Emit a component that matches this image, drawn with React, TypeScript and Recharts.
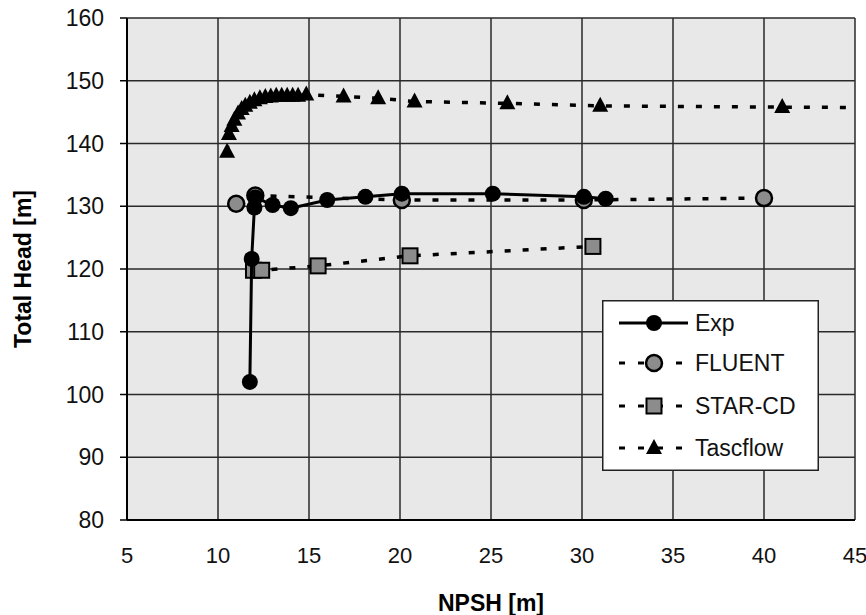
import React from "react";
import { CartesianGrid, Scatter, ScatterChart, XAxis, YAxis } from "recharts";

// NPSH [m] / Total Head [m] readings for each source
const expNpsh = [11.75, 11.85, 12.0, 12.05, 13.0, 14.0, 16.0, 18.1, 20.1, 25.1, 30.1, 31.3];
const expHead = [102.0, 121.6, 129.8, 131.4, 130.2, 129.7, 131.0, 131.5, 132.0, 132.0, 131.5, 131.2];

const fluentNpsh = [11.0, 12.05, 20.1, 30.1, 40.0];
const fluentHead = [130.4, 131.7, 131.0, 131.0, 131.3];

const starNpsh = [11.95, 12.4, 15.5, 20.55, 30.6];
const starHead = [119.8, 119.8, 120.5, 122.1, 123.6];

const tascNpsh = [
  10.5, 10.6, 10.75, 10.9, 11.1, 11.3, 11.5, 11.75, 12.0, 12.3, 12.6, 12.9, 13.2, 13.5, 13.8, 14.1,
  14.4, 14.85, 16.9, 18.8, 20.8, 25.9, 31.0, 41.0, 47.0,
];
const tascHead = [
  138.7, 141.5, 142.8, 143.8, 144.8, 145.5, 146.0, 146.5, 146.9, 147.2, 147.4, 147.5, 147.6, 147.6, 147.6, 147.6,
  147.6, 147.8, 147.5, 147.2, 146.7, 146.4, 146.0, 145.8, 145.7,
];

const xTicks = [5, 10, 15, 20, 25, 30, 35, 40, 45];
const yTicks = [80, 90, 100, 110, 120, 130, 140, 150, 160];
const legendNames = ["Exp", "FLUENT", "STAR-CD", "Tascflow"];

const zip = (xs: number[], ys: number[]) => xs.map((x, i) => ({ npsh: x, head: ys[i] }));

const FONT = "'Liberation Sans', Arial, sans-serif";
const GRAY = "#8c8c8c";

function Dot({ cx, cy, fill }: any) {
  if (cx == null || cy == null) return null;
  return <circle cx={cx} cy={cy} r={8} fill={fill} stroke="#000" strokeWidth={fill === "#000" ? 0 : 2.5} />;
}

function Square({ cx, cy }: any) {
  if (cx == null || cy == null) return null;
  return <rect x={cx - 7.5} y={cy - 7.5} width={15} height={15} fill={GRAY} stroke="#000" strokeWidth={2} />;
}

function Tri({ cx, cy }: any) {
  if (cx == null || cy == null) return null;
  return <path d={`M${cx},${cy - 9} L${cx + 8},${cy + 6} L${cx - 8},${cy + 6} Z`} fill="#000" />;
}

function LegendBox() {
  const rows = [23, 63, 106, 148];
  return (
    <svg width={217} height={171} style={{ display: "block" }}>
      <rect x={0.75} y={0.75} width={215.5} height={169.5} fill="#fff" stroke="#222" strokeWidth={1.5} />
      {rows.map((y, i) => (
        <g key={legendNames[i]}>
          <line
            x1={17}
            x2={86}
            y1={y}
            y2={y}
            stroke="#000"
            strokeWidth={3}
            strokeDasharray={i === 0 ? undefined : "6 13"}
          />
          {i === 0 && <Dot cx={52} cy={y} fill="#000" />}
          {i === 1 && <Dot cx={52} cy={y} fill={GRAY} />}
          {i === 2 && <Square cx={52} cy={y} />}
          {i === 3 && <Tri cx={52} cy={y} />}
          <text x={93} y={y + 8} fontFamily={FONT} fontSize={23} fill="#111">
            {legendNames[i]}
          </text>
        </g>
      ))}
    </svg>
  );
}

export default function App() {
  const dashed = { stroke: "#000", strokeWidth: 3.5, strokeDasharray: "6 12" };
  return (
    <div style={{ position: "absolute", left: 0, top: 0, width: 866, height: 615, background: "#fff" }}>
      <ScatterChart width={866} height={615} margin={{ top: 18, right: 11, left: 0, bottom: 0 }}>
        <CartesianGrid stroke="#2a2a2a" strokeWidth={1.5} fill="#e8e8e8" fillOpacity={1} />
        <XAxis
          type="number"
          dataKey="npsh"
          domain={[5, 45]}
          ticks={xTicks}
          allowDataOverflow
          height={95}
          tickSize={0}
          tickMargin={27}
          axisLine={{ stroke: "#000", strokeWidth: 2 }}
          tick={{ fill: "#111", fontSize: 22, fontFamily: FONT }}
          label={{
            value: "NPSH [m]",
            position: "insideBottom",
            offset: 4,
            style: { fill: "#000", fontSize: 23, fontWeight: 700, fontFamily: FONT },
          }}
        />
        <YAxis
          type="number"
          dataKey="head"
          domain={[80, 160]}
          ticks={yTicks}
          width={127}
          tickSize={7}
          tickMargin={16}
          axisLine={{ stroke: "#000", strokeWidth: 2 }}
          tickLine={{ stroke: "#000", strokeWidth: 1.5 }}
          tick={{ fill: "#111", fontSize: 23, fontFamily: FONT }}
          label={{
            value: "Total Head [m]",
            angle: -90,
            position: "insideLeft",
            offset: 23,
            style: { textAnchor: "middle", fill: "#000", fontSize: 23, fontWeight: 700, fontFamily: FONT },
          }}
        />
        <Scatter
          name="STAR-CD"
          data={zip(starNpsh, starHead)}
          line={dashed}
          lineType="joint"
          shape={(p: any) => <Square {...p} />}
          isAnimationActive={false}
        />
        <Scatter
          name="Tascflow"
          data={zip(tascNpsh, tascHead)}
          line={dashed}
          lineType="joint"
          shape={(p: any) => <Tri {...p} />}
          isAnimationActive={false}
        />
        <Scatter
          name="FLUENT"
          data={zip(fluentNpsh, fluentHead)}
          line={dashed}
          lineType="joint"
          shape={(p: any) => <Dot {...p} fill={GRAY} />}
          isAnimationActive={false}
        />
        <Scatter
          name="Exp"
          data={zip(expNpsh, expHead)}
          line={{ stroke: "#000", strokeWidth: 3 }}
          lineType="joint"
          shape={(p: any) => <Dot {...p} fill="#000" />}
          isAnimationActive={false}
        />
      </ScatterChart>
      <div style={{ position: "absolute", left: 602, top: 300 }}>
        <LegendBox />
      </div>
    </div>
  );
}
